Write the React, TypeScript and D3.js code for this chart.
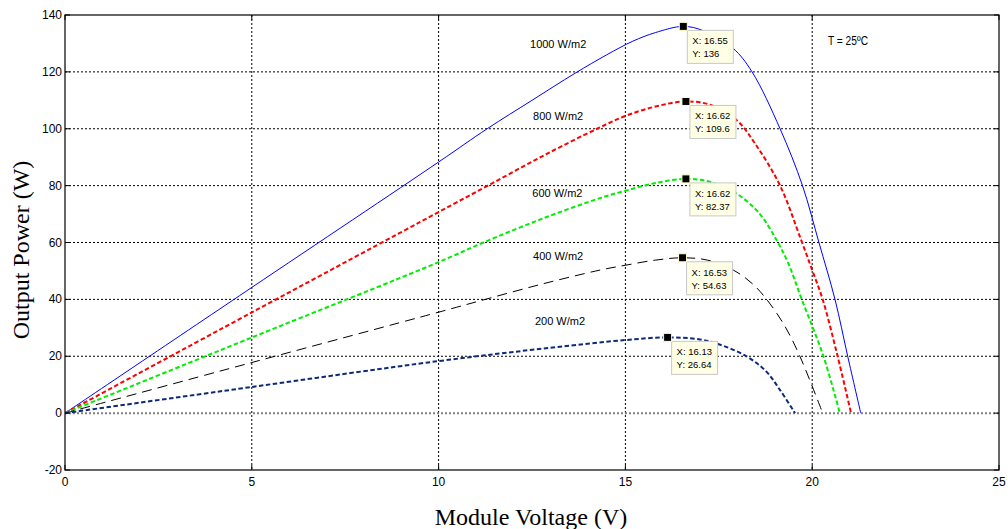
import React from "react";
import * as d3 from "d3";

const W = 1008;
const H = 529;
const M = { left: 65, right: 999, top: 15, bottom: 470 };

const xTicks = [0, 5, 10, 15, 20, 25];
const yTicks = [-20, 0, 20, 40, 60, 80, 100, 120, 140];

// [voltage, power] points
const v1000 = [0, 5, 10, 11.3, 12.5, 13.65, 14.5, 15.2, 15.8, 16.55, 17.08, 17.88, 18.39, 19.14, 19.74, 20.18, 20.61, 20.95, 21.3];
const p1000 = [0, 44.2, 88.3, 100, 110, 119.5, 126, 130.8, 133.8, 136, 134.5, 128.3, 120, 100, 80, 60, 40, 20, 0];

const v800 = [0, 5, 10, 11.32, 12.8, 14.24, 15, 15.8, 16.62, 17.3, 17.98, 18.51, 19.14, 19.7, 20.0, 20.28, 20.68, 21.04];
const p800 = [0, 35.4, 70.7, 80, 90.5, 100, 104.5, 107.8, 109.6, 108.3, 103, 94, 80, 61, 50.3, 40, 20, 0];

const v600 = [0, 5, 10, 11.2, 12.8, 14.32, 15, 15.8, 16.62, 17.3, 18.0, 18.6, 19.06, 19.35, 19.72, 20.3, 20.74];
const p600 = [0, 26.6, 53.1, 60, 68.5, 75.6, 78.2, 80.9, 82.37, 81.2, 77, 70, 60.5, 53, 40, 20, 0];

const v400 = [0, 5, 10, 11.25, 12.8, 14.32, 15, 15.8, 16.53, 17.2, 17.89, 18.4, 18.78, 19.25, 19.67, 20.28];
const p400 = [0, 17.8, 35.5, 40, 45.5, 50.3, 52, 53.8, 54.63, 53.8, 50.3, 45.5, 40, 31, 20, 0];

const v200 = [0, 5, 10, 13, 15, 16.13, 17.0, 17.44, 18.24, 18.78, 19.14, 19.54];
const p200 = [0, 9.2, 18.3, 23, 25.7, 26.64, 25.9, 24.5, 20, 14.5, 8.1, 0];

const seriesNames = ["1000 W/m2", "800 W/m2", "600 W/m2", "400 W/m2", "200 W/m2"];
const seriesV = [v1000, v800, v600, v400, v200];
const seriesP = [p1000, p800, p600, p400, p200];
const colors = ["#0000ff", "#ff0000", "#00ee00", "#000000", "#0d2a78"];
const widths = [1, 2, 2, 1, 2];
const dashes = ["none", "4.5,2.5", "4.5,2.5", "10,6", "4.5,2.5"];

// data tips
const tipX = [16.55, 16.62, 16.62, 16.53, 16.13];
const tipY = [136, 109.6, 82.37, 54.63, 26.64];
const tipXLabel = ["16.55", "16.62", "16.62", "16.53", "16.13"];
const tipYLabel = ["136", "109.6", "82.37", "54.63", "26.64"];

// curve label anchors (data coords)
const labelX = [13.2, 13.2, 13.18, 13.2, 13.25];
const labelY = [128.3, 103, 75.9, 53.8, 30.9];

export default function App() {
  const x = d3.scaleLinear().domain([0, 25]).range([M.left, M.right]);
  const y = d3.scaleLinear().domain([-20, 140]).range([M.bottom, M.top]);
  const line = d3
    .line<number[]>()
    .x((d) => x(d[0]))
    .y((d) => y(d[1]))
    .curve(d3.curveCatmullRom.alpha(0.5));

  const font = "Arial, 'Liberation Sans', sans-serif";
  const serif = "'Liberation Serif', 'Times New Roman', serif";

  return (
    <svg
      width={W}
      height={H}
      style={{ position: "absolute", left: 0, top: 0, background: "#fff" }}
    >
      <defs>
        <clipPath id="plot">
          <rect x={M.left} y={M.top} width={M.right - M.left} height={M.bottom - M.top} />
        </clipPath>
      </defs>
      <rect x={0} y={0} width={W} height={H} fill="#fff" />
      {/* grid */}
      {xTicks.slice(1, -1).map((t) => (
        <line
          key={"gx" + t}
          x1={x(t)}
          x2={x(t)}
          y1={M.top}
          y2={M.bottom}
          stroke="#000"
          strokeWidth={1}
          strokeDasharray="2,2"
        />
      ))}
      {yTicks.slice(1, -1).map((t) =>
        t === 0 ? null : (
          <line
            key={"gy" + t}
            x1={M.left}
            x2={M.right}
            y1={y(t)}
            y2={y(t)}
            stroke="#000"
            strokeWidth={1}
            strokeDasharray="2,2"
          />
        )
      )}
      <line
        x1={M.left}
        x2={M.right}
        y1={y(0)}
        y2={y(0)}
        stroke="#808080"
        strokeWidth={2}
        strokeDasharray="2,2"
      />
      {/* curves */}
      <g clipPath="url(#plot)">
        {seriesV.map((vs, i) => (
          <path
            key={"s" + i}
            d={line(vs.map((v, j) => [v, seriesP[i][j]])) || ""}
            fill="none"
            stroke={colors[i]}
            strokeWidth={widths[i]}
            strokeDasharray={dashes[i]}
          />
        ))}
      </g>
      {/* frame */}
      <rect
        x={M.left}
        y={M.top}
        width={M.right - M.left}
        height={M.bottom - M.top}
        fill="none"
        stroke="#000"
        strokeWidth={1.2}
      />
      {/* ticks */}
      {xTicks.map((t) => (
        <g key={"xt" + t}>
          <line x1={x(t)} x2={x(t)} y1={M.bottom} y2={M.bottom - 5} stroke="#000" />
          <line x1={x(t)} x2={x(t)} y1={M.top} y2={M.top + 5} stroke="#000" />
          <text
            x={x(t)}
            y={M.bottom + 16}
            textAnchor="middle"
            fontFamily={font}
            fontSize={12}
            fill="#000"
          >
            {t}
          </text>
        </g>
      ))}
      {yTicks.map((t) => (
        <g key={"yt" + t}>
          <line x1={M.left} x2={M.left + 5} y1={y(t)} y2={y(t)} stroke="#000" />
          <line x1={M.right} x2={M.right - 5} y1={y(t)} y2={y(t)} stroke="#000" />
          <text
            x={M.left - 3}
            y={y(t) + 4}
            textAnchor="end"
            fontFamily={font}
            fontSize={12}
            fill="#000"
          >
            {t}
          </text>
        </g>
      ))}
      {/* axis titles */}
      <text
        x={531}
        y={525}
        textAnchor="middle"
        fontFamily={serif}
        fontSize={24}
        fill="#000"
      >
        Module Voltage (V)
      </text>
      <text
        transform={`translate(29, 250) rotate(-90)`}
        textAnchor="middle"
        fontFamily={serif}
        fontSize={24}
        fill="#000"
      >
        Output Power (W)
      </text>
      {/* curve labels */}
      {seriesNames.map((n, i) => (
        <text
          key={"l" + i}
          x={x(labelX[i])}
          y={y(labelY[i])}
          textAnchor="middle"
          fontFamily={font}
          fontSize={11}
          fill="#000"
        >
          {n}
        </text>
      ))}
      <text
        x={828}
        y={45}
        fontFamily="'Liberation Sans Narrow', 'Arial Narrow', sans-serif"
        fontSize={12}
        fill="#000"
        textAnchor="start"
        textLength={40}
        lengthAdjust="spacingAndGlyphs"
      >
        T = 25ºC
      </text>
      {/* data tips */}
      {tipX.map((tx, i) => {
        const px = x(tx);
        const py = y(tipY[i]);
        return (
          <g key={"tip" + i}>
            <rect
              x={px + 4}
              y={py + 4}
              width={46}
              height={33}
              fill="#ffffe6"
              stroke="#c8c8c8"
              strokeWidth={1}
            />
            <text x={px + 9} y={py + 18} fontFamily={font} fontSize={9.5} fill="#000">
              X: {tipXLabel[i]}
            </text>
            <text x={px + 9} y={py + 31} fontFamily={font} fontSize={9.5} fill="#000">
              Y: {tipYLabel[i]}
            </text>
            <rect
              x={px - 4}
              y={py - 4}
              width={8}
              height={8}
              fill="#000"
              stroke="#ffffc8"
              strokeWidth={1}
            />
          </g>
        );
      })}
    </svg>
  );
}
